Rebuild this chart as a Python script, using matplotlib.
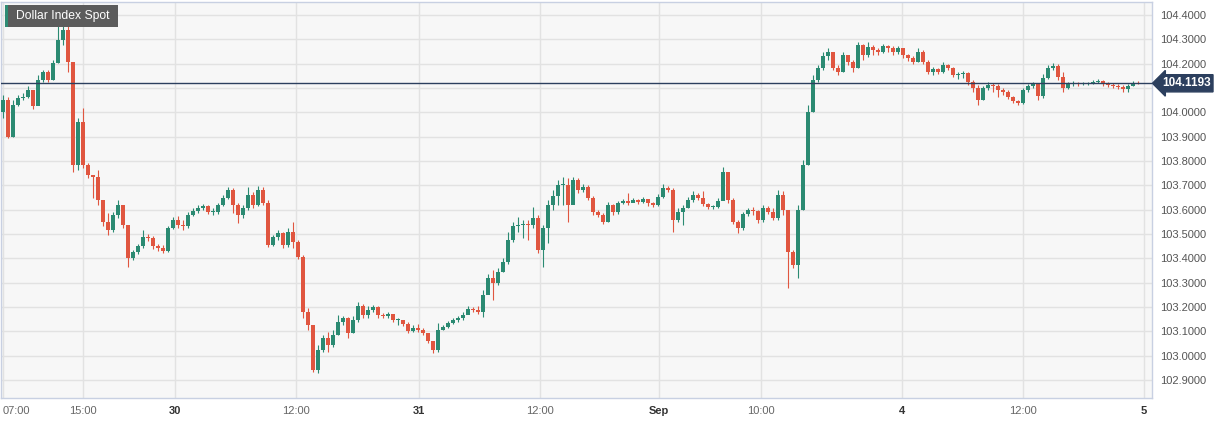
import numpy as np
import matplotlib
matplotlib.use("Agg")
import matplotlib.pyplot as plt
from matplotlib.patches import Rectangle
import matplotlib.transforms as mtransforms

plt.rcParams["font.family"] = ["Liberation Sans", "DejaVu Sans"]

# 30 min candles, Dollar Index Spot
first_open = 104.001
closes = [
    104.051, 103.899, 104.030, 104.059, 104.063, 104.092, 104.026, 104.133, 104.166, 104.133,
    104.203, 104.297, 104.338, 104.207, 103.783, 103.960, 103.783, 103.742, 103.734, 103.640,
    103.549, 103.516, 103.578, 103.619, 103.537, 103.401, 103.426, 103.451, 103.488, 103.483,
    103.451, 103.442, 103.430, 103.525, 103.557, 103.537, 103.533, 103.578, 103.594, 103.607,
    103.615, 103.590, 103.590, 103.619, 103.648, 103.681, 103.619, 103.578, 103.607, 103.660,
    103.619, 103.681, 103.627, 103.455, 103.488, 103.504, 103.455, 103.508, 103.467, 103.405,
    103.179, 103.126, 102.941, 103.023, 103.072, 103.044, 103.085, 103.138, 103.155, 103.093,
    103.146, 103.204, 103.167, 103.187, 103.200, 103.167, 103.163, 103.171, 103.146, 103.146,
    103.130, 103.101, 103.113, 103.105, 103.093, 103.060, 103.023, 103.105, 103.118, 103.134,
    103.146, 103.155, 103.167, 103.192, 103.187, 103.179, 103.249, 103.319, 103.298, 103.344,
    103.385, 103.475, 103.533, 103.537, 103.541, 103.537, 103.566, 103.434, 103.525, 103.619,
    103.656, 103.701, 103.701, 103.619, 103.722, 103.681, 103.693, 103.648, 103.590, 103.578,
    103.549, 103.619, 103.590, 103.627, 103.636, 103.627, 103.640, 103.631, 103.644, 103.627,
    103.619, 103.652, 103.689, 103.681, 103.557, 103.590, 103.607, 103.640, 103.660, 103.648,
    103.623, 103.611, 103.611, 103.636, 103.755, 103.640, 103.549, 103.525, 103.582, 103.599,
    103.594, 103.557, 103.607, 103.590, 103.566, 103.660, 103.599, 103.426, 103.372, 103.599,
    103.783, 104.001, 104.133, 104.182, 104.231, 104.248, 104.182, 104.166, 104.236, 104.207,
    104.182, 104.277, 104.236, 104.268, 104.256, 104.248, 104.273, 104.264, 104.248, 104.264,
    104.236, 104.223, 104.207, 104.248, 104.207, 104.166, 104.178, 104.166, 104.195, 104.182,
    104.153, 104.158, 104.162, 104.125, 104.100, 104.051, 104.100, 104.112, 104.108, 104.092,
    104.083, 104.063, 104.047, 104.038, 104.092, 104.108, 104.116, 104.067, 104.141, 104.182,
    104.190, 104.145, 104.100, 104.116, 104.121, 104.116, 104.116, 104.116, 104.125, 104.129,
    104.116, 104.112, 104.108, 104.104, 104.096, 104.108, 104.121, 104.119,
]
highs = [
    104.071, 104.063, 104.051, 104.071, 104.079, 104.108, 104.083, 104.153, 104.174, 104.174,
    104.215, 104.359, 104.380, 104.371, 104.207, 103.977, 104.018, 103.792, 103.742, 103.763,
    103.640, 103.586, 103.590, 103.640, 103.619, 103.537, 103.434, 103.459, 103.516, 103.500,
    103.492, 103.459, 103.455, 103.533, 103.570, 103.574, 103.557, 103.590, 103.607, 103.619,
    103.623, 103.619, 103.607, 103.627, 103.660, 103.693, 103.689, 103.627, 103.619, 103.693,
    103.673, 103.697, 103.693, 103.640, 103.496, 103.516, 103.508, 103.525, 103.549, 103.475,
    103.414, 103.196, 103.126, 103.044, 103.085, 103.097, 103.105, 103.167, 103.163, 103.159,
    103.163, 103.220, 103.212, 103.204, 103.208, 103.204, 103.175, 103.179, 103.167, 103.155,
    103.146, 103.138, 103.126, 103.130, 103.113, 103.093, 103.060, 103.134, 103.126, 103.142,
    103.155, 103.163, 103.179, 103.204, 103.200, 103.204, 103.270, 103.336, 103.352, 103.360,
    103.401, 103.508, 103.549, 103.570, 103.557, 103.557, 103.611, 103.578, 103.537, 103.640,
    103.681, 103.722, 103.734, 103.730, 103.734, 103.730, 103.705, 103.701, 103.656, 103.599,
    103.586, 103.631, 103.623, 103.636, 103.644, 103.668, 103.648, 103.644, 103.652, 103.644,
    103.631, 103.664, 103.705, 103.697, 103.689, 103.607, 103.619, 103.652, 103.677, 103.668,
    103.677, 103.627, 103.619, 103.648, 103.775, 103.755, 103.648, 103.557, 103.590, 103.607,
    103.611, 103.599, 103.619, 103.615, 103.607, 103.681, 103.677, 103.590, 103.434, 103.619,
    103.804, 104.030, 104.153, 104.195, 104.248, 104.264, 104.248, 104.195, 104.248, 104.231,
    104.215, 104.289, 104.281, 104.289, 104.277, 104.264, 104.281, 104.277, 104.273, 104.273,
    104.264, 104.240, 104.231, 104.264, 104.256, 104.215, 104.186, 104.182, 104.207, 104.199,
    104.186, 104.166, 104.170, 104.166, 104.133, 104.112, 104.108, 104.125, 104.121, 104.116,
    104.100, 104.092, 104.067, 104.051, 104.100, 104.116, 104.125, 104.121, 104.158, 104.195,
    104.203, 104.199, 104.166, 104.125, 104.129, 104.125, 104.125, 104.125, 104.133, 104.137,
    104.133, 104.125, 104.121, 104.116, 104.112, 104.116, 104.129, 104.129,
]
lows = [
    103.977, 103.894, 103.899, 104.026, 104.051, 104.059, 104.014, 104.059, 104.125, 104.125,
    104.133, 104.203, 104.277, 104.166, 103.755, 103.763, 103.771, 103.730, 103.648, 103.619,
    103.533, 103.496, 103.508, 103.566, 103.525, 103.364, 103.393, 103.418, 103.442, 103.471,
    103.438, 103.430, 103.422, 103.426, 103.520, 103.525, 103.516, 103.525, 103.574, 103.586,
    103.599, 103.582, 103.578, 103.582, 103.615, 103.644, 103.586, 103.545, 103.566, 103.599,
    103.607, 103.615, 103.619, 103.446, 103.451, 103.475, 103.442, 103.446, 103.442, 103.397,
    103.155, 103.105, 102.933, 102.929, 103.015, 103.015, 103.035, 103.085, 103.126, 103.072,
    103.093, 103.138, 103.155, 103.155, 103.179, 103.155, 103.155, 103.155, 103.138, 103.126,
    103.122, 103.093, 103.097, 103.097, 103.085, 103.052, 103.011, 103.015, 103.105, 103.113,
    103.130, 103.138, 103.146, 103.171, 103.179, 103.171, 103.159, 103.261, 103.229, 103.290,
    103.344, 103.377, 103.467, 103.508, 103.483, 103.475, 103.525, 103.422, 103.364, 103.463,
    103.599, 103.619, 103.619, 103.549, 103.627, 103.668, 103.673, 103.640, 103.578, 103.570,
    103.541, 103.549, 103.578, 103.582, 103.623, 103.619, 103.631, 103.623, 103.627, 103.615,
    103.611, 103.615, 103.648, 103.673, 103.508, 103.549, 103.537, 103.607, 103.631, 103.640,
    103.615, 103.603, 103.603, 103.607, 103.640, 103.627, 103.541, 103.504, 103.516, 103.574,
    103.578, 103.545, 103.549, 103.582, 103.557, 103.557, 103.578, 103.278, 103.360, 103.319,
    103.599, 103.783, 104.001, 104.125, 104.174, 104.215, 104.174, 104.153, 104.166, 104.195,
    104.166, 104.182, 104.215, 104.227, 104.236, 104.236, 104.244, 104.248, 104.236, 104.240,
    104.223, 104.211, 104.199, 104.207, 104.199, 104.158, 104.153, 104.158, 104.162, 104.174,
    104.145, 104.137, 104.141, 104.112, 104.083, 104.030, 104.051, 104.092, 104.083, 104.063,
    104.071, 104.055, 104.038, 104.030, 104.034, 104.083, 104.100, 104.051, 104.059, 104.137,
    104.174, 104.133, 104.083, 104.096, 104.108, 104.108, 104.112, 104.112, 104.116, 104.121,
    104.108, 104.104, 104.100, 104.096, 104.083, 104.083, 104.108, 104.116,
]

tick_pos = [0, 16, 34.4, 58.6, 83.2, 107.4, 131.2, 151.6, 179.8, 204, 228.2]
tick_labels = ["07:00", "15:00", "30", "12:00", "31", "12:00", "Sep", "10:00", "4", "12:00", "5"]
y_ticks = [102.9, 103.0, 103.1, 103.2, 103.3, 103.4, 103.5, 103.6, 103.7, 103.8,
           103.9, 104.0, 104.1, 104.2, 104.3, 104.4]
last_price = 104.1193
title = "Dollar Index Spot"

GREEN = "#2b8a72"
RED = "#e05640"
NAVY = "#2c3f5e"

W, H = 1229, 424
fig = plt.figure(figsize=(W / 100, H / 100), dpi=100)
fig.patch.set_facecolor("white")
ax = fig.add_axes([1 / W, 26 / H, 1151 / W, 396 / H])
ax.set_facecolor("#f7f7f7")

o = np.array([first_open] + closes[:-1])
c = np.array(closes)
hi = np.array(highs)
lo = np.array(lows)
idx = np.arange(len(c))
cols = np.where(c >= o, GREEN, RED)

ax.vlines(idx, lo, hi, colors=cols, linewidth=0.8, zorder=3)
body = np.maximum(np.abs(c - o), 0.003)
ax.bar(idx, body, bottom=np.minimum(o, c), width=0.66, color=cols, linewidth=0, zorder=4)

ax.axhline(last_price, color=NAVY, linewidth=1.0, zorder=5)

ax.set_xlim(-0.4, 229.8)
ax.set_ylim(102.8258, 104.4534)

# the 104.1 label sits under the price tag, so it is left blank
ax.set_yticks(y_ticks)
ax.set_yticklabels(["" if abs(v - 104.1) < 1e-6 else "%.4f" % v for v in y_ticks])
ax.yaxis.tick_right()
ax.tick_params(axis="y", length=0, pad=6, labelsize=8, labelcolor="#555555")
ax.set_xticks(tick_pos)
ax.set_xticklabels(tick_labels)
ax.tick_params(axis="x", length=0, pad=6, labelsize=8)
for i, lab in enumerate(ax.get_xticklabels()):
    if ":" in lab.get_text():
        lab.set_color("#666666")
    else:
        lab.set_color("#333333")
        lab.set_fontweight("bold")
    if i == 0:
        lab.set_horizontalalignment("left")
        lab.set_x(-0.6)

ax.grid(True, color="#e2e2e2", linewidth=1.0, zorder=0)
ax.set_axisbelow(True)
for sp in ax.spines.values():
    sp.set_color("#c8d0e2")
    sp.set_linewidth(1.0)

# price tag on the right
trans = mtransforms.blended_transform_factory(ax.transAxes, ax.transData)
ax.text(1.0085, last_price, "%.4f" % last_price, transform=trans, ha="left", va="center",
        fontsize=8.5, fontweight="bold", color="white", clip_on=False, zorder=6,
        bbox=dict(boxstyle="larrow,pad=0.22", facecolor=NAVY, edgecolor=NAVY))

# title badge
fig.patches.append(Rectangle((5 / W, 1 - 27 / H), 113 / W, 22 / H, transform=fig.transFigure,
                             facecolor="#5c5c5c", edgecolor="none", zorder=10))
fig.patches.append(Rectangle((5 / W, 1 - 27 / H), 3 / W, 22 / H, transform=fig.transFigure,
                             facecolor="#2e8b74", edgecolor="none", zorder=11))
fig.text(63 / W, 1 - 16 / H, title, color="white", fontsize=8.7, ha="center", va="center", zorder=12)

plt.savefig("out.png", dpi=100)
